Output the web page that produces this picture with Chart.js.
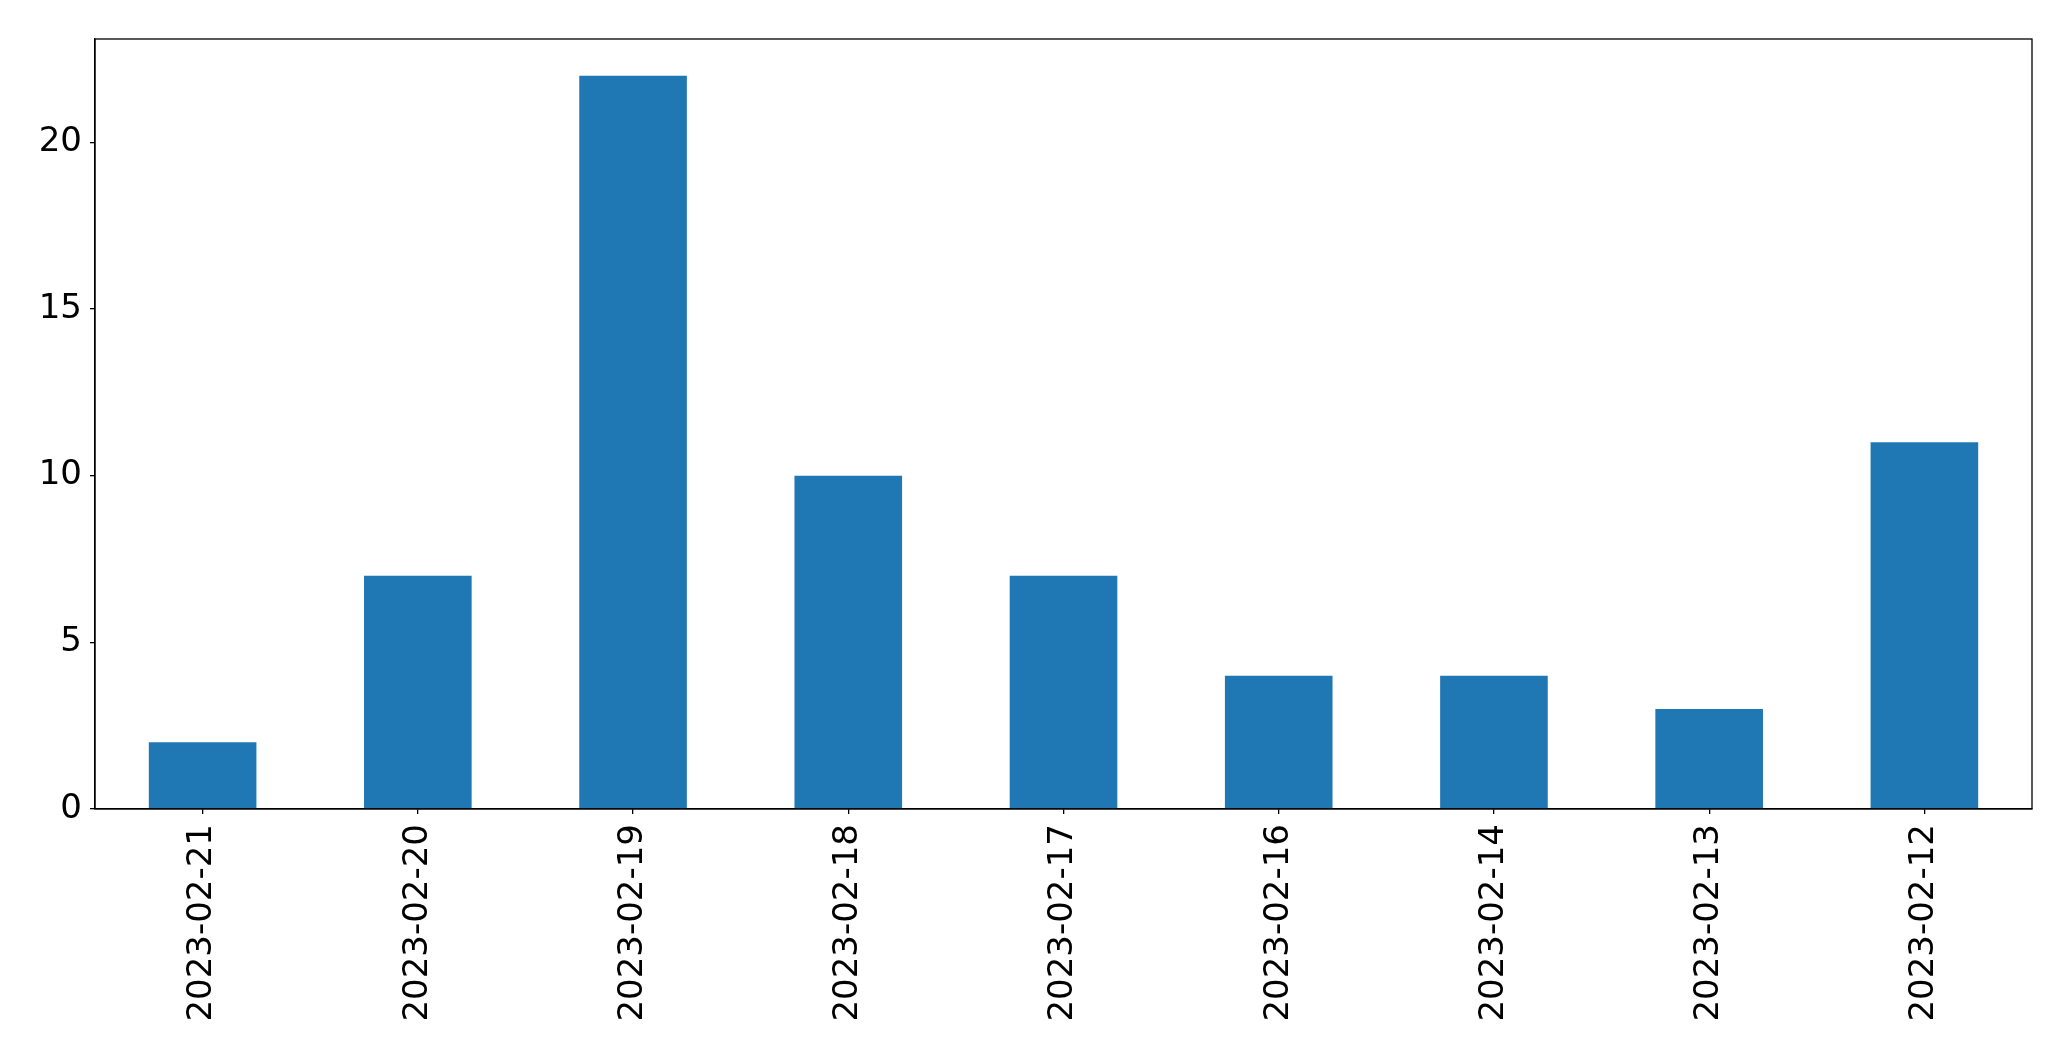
<!DOCTYPE html>
<html>
<head>
<meta charset="utf-8">
<script src="https://cdn.jsdelivr.net/npm/chart.js@4/dist/chart.umd.min.js"></script>
<style>
  body { margin: 0; background: #fff; }
  canvas { display: block; }
</style>
</head>
<body>
<canvas id="barChart" width="2071" height="1061"></canvas>
<script>
const dates = ['2023-02-21', '2023-02-20', '2023-02-19', '2023-02-18', '2023-02-17',
               '2023-02-16', '2023-02-14', '2023-02-13', '2023-02-12'];
const counts = [2, 7, 22, 10, 7, 4, 4, 3, 11];
const yTicks = [0, 5, 10, 15, 20];
const yMax = 23.1;

// draws the box around the plot like matplotlib's spines
const frame = {
    id: 'frame',
    afterDraw(chart) {
        const a = chart.chartArea;
        const c = chart.ctx;
        c.save();
        c.strokeStyle = '#000';
        c.lineWidth = 1.3;
        c.strokeRect(a.left, a.top, a.right - a.left, a.bottom - a.top);
        c.restore();
    }
};

ctx = document.getElementById('barChart').getContext('2d');
chart = new Chart(ctx, {
    type: 'bar',
    data: {
        labels: dates,
        datasets: [{
            data: counts,
            backgroundColor: '#1f77b4',
            borderWidth: 0,
            barPercentage: 0.5,
            categoryPercentage: 1.0
        }]
    },
    options: {
        responsive: false,
        animation: false,
        layout: { padding: { top: 39, right: 39, left: 0, bottom: 0 } },
        plugins: {
            legend: { display: false },
            tooltip: { enabled: false }
        },
        scales: {
            x: {
                offset: true,
                grid: { display: true, offset: false, drawOnChartArea: false, drawTicks: true, tickLength: 5, color: '#000', lineWidth: 1.3 },
                border: { display: true, color: '#000', width: 1.3 },
                ticks: {
                    color: '#000',
                    font: { family: 'DejaVu Sans', size: 34 },
                    minRotation: 90,
                    maxRotation: 90,
                    padding: 10,
                    autoSkip: false
                },
                afterFit(scale) { scale.height = 252; }
            },
            y: {
                min: 0,
                max: yMax,
                grid: { display: true, drawOnChartArea: false, drawTicks: true, tickLength: 5, color: '#000', lineWidth: 1.3 },
                border: { display: true, color: '#000', width: 1.3 },
                ticks: {
                    color: '#000',
                    font: { family: 'DejaVu Sans', size: 34 },
                    padding: 8
                },
                afterBuildTicks(scale) {
                    scale.ticks = yTicks.map(v => ({ value: v }));
                },
                afterFit(scale) { scale.width = 95; }
            }
        }
    },
    plugins: [frame]
});
</script>
</body>
</html>
